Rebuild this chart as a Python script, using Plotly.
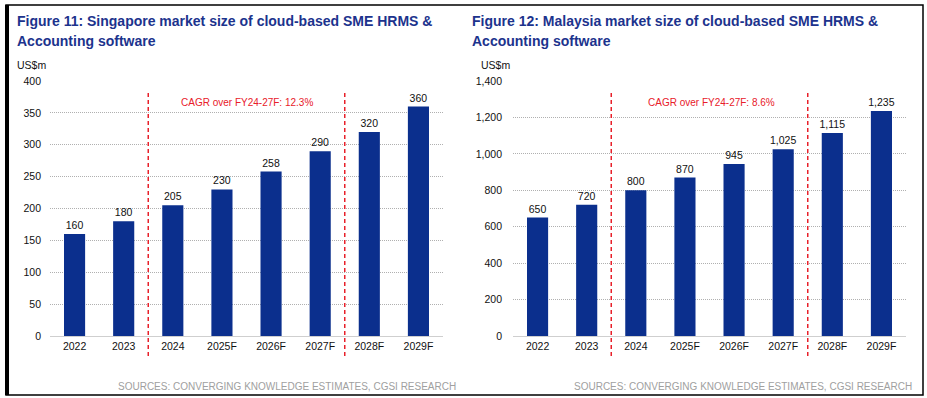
import plotly.graph_objects as go

W, H = 927, 398

categories = ["2022", "2023", "2024", "2025F", "2026F", "2027F", "2028F", "2029F"]
sg_values = [160, 180, 205, 230, 258, 290, 320, 360]
my_values = [650, 720, 800, 870, 945, 1025, 1115, 1235]
sg_labels = ["160", "180", "205", "230", "258", "290", "320", "360"]
my_labels = ["650", "720", "800", "870", "945", "1,025", "1,115", "1,235"]
sg_ticks = [0, 50, 100, 150, 200, 250, 300, 350, 400]
my_ticks = [0, 200, 400, 600, 800, 1000, 1200, 1400]
my_ticktext = ["0", "200", "400", "600", "800", "1,000", "1,200", "1,400"]

title_left = ["Figure 11: Singapore market size of cloud-based SME HRMS &", "Accounting software"]
title_right = ["Figure 12: Malaysia market size of cloud-based SME HRMS &", "Accounting software"]
cagr_left = "CAGR over FY24-27F: 12.3%"
cagr_right = "CAGR over FY24-27F: 8.6%"
source_text = "SOURCES: CONVERGING KNOWLEDGE ESTIMATES, CGSI RESEARCH"

BAR = "#0B2F8D"
TITLE = "#1C338D"
RED = "#E8202A"
FONT = "Liberation Sans, Arial, sans-serif"
FS = 10.5


def px(x):
    return x / W


def py(y):
    return 1 - y / H


fig = go.Figure()
fig.add_trace(go.Bar(x=categories, y=sg_values, text=sg_labels, textposition="outside",
                     marker=dict(color=BAR, line=dict(width=0)), xaxis="x", yaxis="y",
                     textfont=dict(size=FS, color="#111111"), cliponaxis=False,
                     constraintext="none"))
fig.add_trace(go.Bar(x=categories, y=my_values, text=my_labels, textposition="outside",
                     marker=dict(color=BAR, line=dict(width=0)), xaxis="x2", yaxis="y2",
                     textfont=dict(size=FS, color="#111111"), cliponaxis=False,
                     constraintext="none"))

ydom = [py(336), py(81)]
common_x = dict(showgrid=False, showline=True, linecolor="#cfcfcf", linewidth=1, automargin=False,
                ticks="", tickfont=dict(size=FS, color="#111111"), fixedrange=True)
common_y = dict(showgrid=True, gridcolor="#b0b0b0", griddash="1px,1px", gridwidth=1, automargin=False,
                zeroline=False, showline=False, ticks="", tickfont=dict(size=FS, color="#111111"))

fig.update_layout(
    width=W, height=H,
    margin=dict(l=0, r=0, t=0, b=0, pad=0),
    paper_bgcolor="white", plot_bgcolor="white",
    font=dict(family=FONT),
    showlegend=False,
    bargap=0.57,
    xaxis=dict(domain=[px(50), px(443)], anchor="y", **common_x),
    yaxis=dict(domain=ydom, anchor="x", range=[0, 400], tickvals=sg_ticks,
               ticklabelstandoff=8, **common_y),
    xaxis2=dict(domain=[px(513), px(906)], anchor="y2", **common_x),
    yaxis2=dict(domain=ydom, anchor="x2", range=[0, 1400], tickvals=my_ticks,
                ticktext=my_ticktext, ticklabelstandoff=10, **common_y),
)

annotations = []
for tx, title in [(15, title_left), (470, title_right)]:
    for ty, line in zip([21, 41], title):
        annotations.append(dict(text="<b>" + line + "</b>", x=px(tx), y=py(ty), xanchor="left",
                                yanchor="middle", font=dict(size=14, color=TITLE)))
annotations += [
    dict(text="US$m", x=px(15), y=py(65), xanchor="left", yanchor="middle",
         font=dict(size=FS, color="#111111")),
    dict(text="US$m", x=px(479), y=py(65), xanchor="left", yanchor="middle",
         font=dict(size=FS, color="#111111")),
    dict(text=cagr_left, x=px(247), y=py(102), xanchor="center", yanchor="middle",
         font=dict(size=10, color=RED)),
    dict(text=cagr_right, x=px(711), y=py(102), xanchor="center", yanchor="middle",
         font=dict(size=10, color=RED)),
    dict(text=source_text, x=px(458), y=py(386), xanchor="right", yanchor="middle",
         font=dict(size=10, color="#a0a0a0")),
    dict(text=source_text, x=px(914), y=py(386), xanchor="right", yanchor="middle",
         font=dict(size=10, color="#a0a0a0")),
]
for a in annotations:
    a.update(xref="paper", yref="paper", showarrow=False)
fig.update_layout(annotations=annotations)

shapes = []
for xr in ["x", "x2"]:
    for xv in [1.5, 5.5]:
        shapes.append(dict(type="line", xref=xr, yref="paper", x0=xv, x1=xv,
                           y0=py(93), y1=py(357),
                           line=dict(color=RED, width=1.5, dash="4px,3px")))
# outer border
shapes.append(dict(type="rect", xref="paper", yref="paper", x0=px(6), x1=px(923),
                   y0=py(395), y1=py(5), line=dict(color="black", width=1.5)))
shapes.append(dict(type="line", xref="paper", yref="paper", x0=px(7), x1=px(7),
                   y0=py(395), y1=py(5), line=dict(color="black", width=4)))
fig.update_layout(shapes=shapes)

fig.write_html("out.html", config={"displayModeBar": False},
               post_script="document.body.style.margin='0';document.body.style.padding='0';")
